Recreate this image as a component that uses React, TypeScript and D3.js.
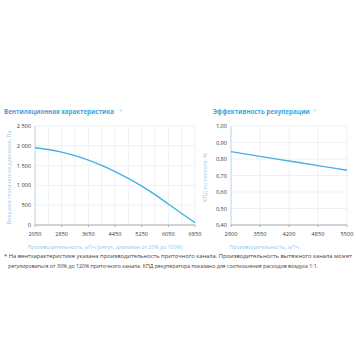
import React from "react";
import * as d3 from "d3";

const fanFlow = [2050, 2450, 2850, 3250, 3650, 4050, 4450, 4850, 5250, 5650, 6050, 6450, 6850];
const fanPressure = [1950, 1905, 1840, 1752, 1640, 1505, 1350, 1175, 980, 765, 530, 290, 60];
const fanXTicks = [2050, 2850, 3650, 4450, 5250, 6050, 6850];
const fanXGrid = [2050, 2450, 2850, 3250, 3650, 4050, 4450, 4850, 5250, 5650, 6050, 6450, 6850];
const fanYTicks = [0, 500, 1000, 1500, 2000, 2500];

const recFlow = [2900, 3550, 4200, 4850, 5500];
const recEff = [0.845, 0.816, 0.788, 0.76, 0.732];
const recXTicks = [2900, 3550, 4200, 4850, 5500];
const recYTicks = [0.4, 0.5, 0.6, 0.7, 0.8, 0.9, 1.0];

const FONT = "'Open Sans', 'Noto Sans', sans-serif";
const BLUE = "#45b0e5";
const TITLE = "#3ba5dd";
const AXT = "#93c8e8";
const GRID = "#e4eef6";
const TXT = "#3a3a3a";

function fmtSpace(v: number) {
  return v >= 1000 ? `${Math.floor(v / 1000)} ${String(v % 1000).padStart(3, "0")}` : String(v);
}
function fmtComma(v: number) {
  return v.toFixed(2).replace(".", ",");
}

export default function App() {
  const lx = d3.scaleLinear().domain([2050, 6850]).range([35, 195]);
  const ly = d3.scaleLinear().domain([0, 2500]).range([225, 126]);
  const lLine = d3
    .line<number>()
    .x((_, i) => lx(fanFlow[i]))
    .y((d) => ly(d))
    .curve(d3.curveCatmullRom)(fanPressure) as string;

  const rx = d3.scaleLinear().domain([2900, 5500]).range([231, 347]);
  const ry = d3.scaleLinear().domain([0.4, 1.0]).range([225, 126]);
  const rLine = d3
    .line<number>()
    .x((_, i) => rx(recFlow[i]))
    .y((d) => ry(d))
    .curve(d3.curveMonotoneX)(recEff) as string;

  return (
    <svg
      width={356}
      height={356}
      style={{ position: "absolute", left: 0, top: 0, background: "#fff" }}
      fontFamily={FONT}
    >
      <text x={4} y={114} fontSize={6.2} fontWeight={700} fill={TITLE}>
        Вентиляционная характеристика
      </text>
      <text x={119} y={113} fontSize={6} fill="#9fd0ee">*</text>
      <text x={213} y={114} fontSize={6.2} fontWeight={700} fill={TITLE}>
        Эффективность рекуперации
      </text>
      <text x={313} y={113} fontSize={6} fill="#9fd0ee">*</text>

      {fanXGrid.map((v) => (
        <line key={"lg" + v} x1={lx(v)} x2={lx(v)} y1={ly(2500)} y2={ly(0)} stroke={GRID} strokeWidth={0.8} />
      ))}
      {fanYTicks.map((v) => (
        <line key={"lh" + v} x1={lx(2050)} x2={lx(6850)} y1={ly(v)} y2={ly(v)} stroke={GRID} strokeWidth={0.8} />
      ))}
      <line x1={lx(2050)} x2={lx(2050)} y1={ly(2500)} y2={ly(0)} stroke="#b8d4e6" strokeWidth={0.8} />
      <line x1={lx(2050)} x2={lx(6850)} y1={ly(0)} y2={ly(0)} stroke="#9a9a9a" strokeWidth={0.8} />
      {fanXTicks.map((v) => (
        <line key={"ltk" + v} x1={lx(v)} x2={lx(v)} y1={ly(0)} y2={ly(0) + 2} stroke="#9a9a9a" strokeWidth={0.8} />
      ))}
      {fanYTicks.map((v) => (
        <text key={"lyt" + v} x={31} y={ly(v) + 2} fontSize={5.6} fill={TXT} textAnchor="end">
          {fmtSpace(v)}
        </text>
      ))}
      {fanXTicks.map((v) => (
        <text key={"lxt" + v} x={lx(v)} y={236} fontSize={5.6} fill={TXT} textAnchor="middle">
          {v}
        </text>
      ))}
      <path d={lLine} fill="none" stroke={BLUE} strokeWidth={1.4} />
      <text
        transform={`translate(11,${(ly(0) + ly(2500)) / 2 + 2}) rotate(-90)`}
        fontSize={5.4}
        fill={AXT}
        textAnchor="middle"
      >
        Внешнее статическое давление, Па
      </text>
      <text x={105} y={249} fontSize={5.4} fill={AXT} textAnchor="middle" textLength={155} lengthAdjust="spacingAndGlyphs">
        Производительность, м³/ч (регул. диапазон от 20% до 100%)
      </text>

      {recXTicks.map((v) => (
        <line key={"rg" + v} x1={rx(v)} x2={rx(v)} y1={ry(1)} y2={ry(0.4)} stroke={GRID} strokeWidth={0.8} />
      ))}
      {recYTicks.map((v) => (
        <line key={"rh" + v} x1={rx(2900)} x2={rx(5500)} y1={ry(v)} y2={ry(v)} stroke={GRID} strokeWidth={0.8} />
      ))}
      <line x1={rx(2900)} x2={rx(2900)} y1={ry(1)} y2={ry(0.4)} stroke="#b8d4e6" strokeWidth={0.8} />
      <line x1={rx(2900)} x2={rx(5500)} y1={ry(0.4)} y2={ry(0.4)} stroke="#9a9a9a" strokeWidth={0.8} />
      {recXTicks.map((v) => (
        <line key={"rtk" + v} x1={rx(v)} x2={rx(v)} y1={ry(0.4)} y2={ry(0.4) + 2} stroke="#9a9a9a" strokeWidth={0.8} />
      ))}
      {recYTicks.map((v) => (
        <text key={"ryt" + v} x={227} y={ry(v) + 2} fontSize={5.6} fill={TXT} textAnchor="end">
          {fmtComma(v)}
        </text>
      ))}
      {recXTicks.map((v) => (
        <text key={"rxt" + v} x={rx(v)} y={236} fontSize={5.6} fill={TXT} textAnchor="middle">
          {v}
        </text>
      ))}
      <path d={rLine} fill="none" stroke={BLUE} strokeWidth={1.4} />
      <text
        transform={`translate(207,${(ry(0.4) + ry(1)) / 2 + 2}) rotate(-90)`}
        fontSize={5.4}
        fill={AXT}
        textAnchor="middle"
      >
        КПД по теплоте, %
      </text>
      <text x={264} y={249} fontSize={5.4} fill={AXT} textAnchor="middle">
        Производительность, м³/ч
      </text>

      <text x={4} y={258} fontSize={5.5} fill={TXT} textLength={348} lengthAdjust="spacingAndGlyphs">
        * На вентхарактеристике указана производительность приточного канала. Производительность вытяжного канала может
      </text>
      <text x={8} y={268} fontSize={5.5} fill={TXT} textLength={310} lengthAdjust="spacingAndGlyphs">
        регулироваться от 30% до 120% приточного канала. КПД рекуператора показано для соотношения расходов воздуха 1:1.
      </text>
    </svg>
  );
}
